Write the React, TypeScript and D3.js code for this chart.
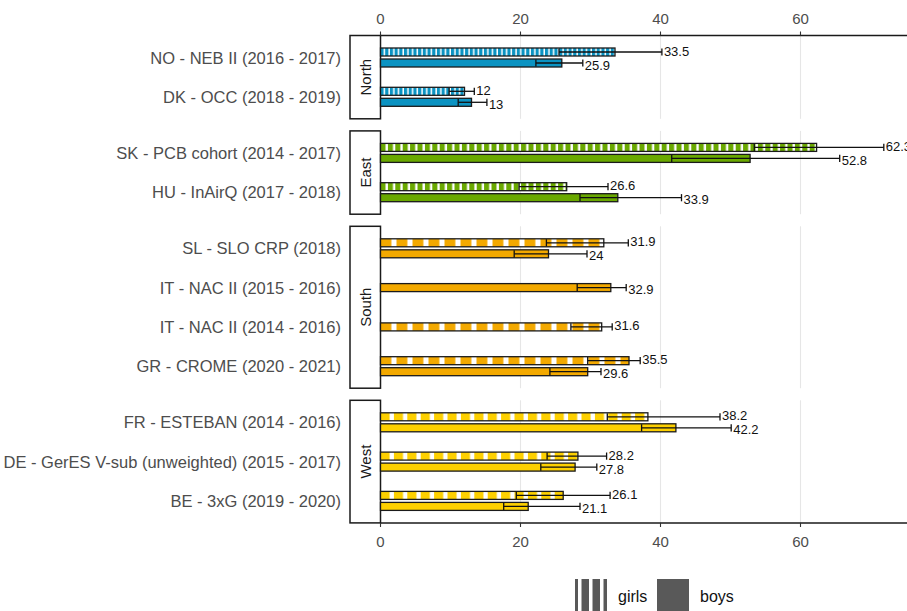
import React, { useEffect, useRef } from 'react';
import * as d3 from 'd3';

// --- data ---
const regions = ['North', 'East', 'South', 'West'];

const studies = [
	'NO - NEB II (2016 - 2017)',
	'DK - OCC (2018 - 2019)',
	'SK - PCB cohort (2014 - 2017)',
	'HU - InAirQ (2017 - 2018)',
	'SL - SLO CRP (2018)',
	'IT - NAC II (2015 - 2016)',
	'IT - NAC II (2014 - 2016)',
	'GR - CROME (2020 - 2021)',
	'FR - ESTEBAN (2014 - 2016)',
	'DE - GerES V-sub (unweighted) (2015 - 2017)',
	'BE - 3xG (2019 - 2020)',
];
const studyRegion = ['North', 'North', 'East', 'East', 'South', 'South', 'South', 'South', 'West', 'West', 'West'];

const girlsValue = [33.5, 12, 62.3, 26.6, 31.9, null, 31.6, 35.5, 38.2, 28.2, 26.1];
const girlsLower = [25.5, 9.8, 53.4, 19.8, 23.7, null, 27.2, 29.6, 32.4, 23.8, 19.4];
const girlsUpper = [40.2, 13.4, 71.9, 32.5, 35.4, null, 33.1, 37.1, 48.5, 32.3, 32.8];

const boysValue = [25.9, 13, 52.8, 33.9, 24, 32.9, null, 29.6, 42.2, 27.8, 21.1];
const boysLower = [22.2, 11.1, 41.6, 28.5, 19.1, 28.1, null, 24.2, 37.3, 22.9, 17.6];
const boysUpper = [28.9, 15.2, 65.6, 43.0, 29.5, 35.1, null, 31.5, 50.1, 30.9, 28.5];

const xTicks = [0, 20, 40, 60];
const sexes = ['girls', 'boys'];

// --- styling ---
const regionColor: Record<string, string> = {
	North: '#0b93c2',
	East: '#6aa900',
	South: '#f3a900',
	West: '#fdd000',
};
const stripePeriod: Record<string, number> = { North: 4.7, East: 7.4, South: 16, West: 13.4 };

const W = 907;
const H = 611;
const FONT = '"Liberation Sans", Arial, sans-serif';

const App: React.FC = () => {
	const ref = useRef<SVGSVGElement>(null);

	useEffect(() => {
		if (!ref.current) return;
		const svg = d3.select(ref.current);
		svg.selectAll('*').remove();

		const panelTop = 35.5;
		const panelBottom = 523;
		const rowStep = 39.3;
		const rowPad = 22;
		const gap = 12.1;
		const stripLeft = 350;

		const x = d3.scaleLinear().domain([0, 60]).range([380.5, 800.5]);
		const x0 = x(0);

		// stripe patterns
		const defs = svg.append('defs');
		regions.forEach((r) => {
			const p = stripePeriod[r];
			const pat = defs
				.append('pattern')
				.attr('id', `stripe-${r}`)
				.attr('patternUnits', 'userSpaceOnUse')
				.attr('x', x0)
				.attr('width', p)
				.attr('height', 20);
			pat.append('rect').attr('width', p).attr('height', 20).attr('fill', '#fff');
			pat.append('rect').attr('width', p * 0.68).attr('height', 20).attr('fill', regionColor[r]);
		});
		const legPat = defs
			.append('pattern')
			.attr('id', 'stripe-legend')
			.attr('patternUnits', 'userSpaceOnUse')
			.attr('x', 575)
			.attr('width', 11)
			.attr('height', 20);
		legPat.append('rect').attr('width', 11).attr('height', 20).attr('fill', '#fff');
		legPat.append('rect').attr('x', 3.5).attr('width', 7.5).attr('height', 20).attr('fill', '#595959');

		// facet layout
		let top = panelTop;
		const facets = regions.map((r) => {
			const rows = studies.filter((_, i) => studyRegion[i] === r);
			const h = (rows.length - 1) * rowStep + 2 * rowPad;
			const y = d3
				.scalePoint<string>()
				.domain(rows)
				.range([top, top + h])
				.padding(rowPad / rowStep);
			const f = { region: r, top, bottom: top + h, y };
			top += h + gap;
			return f;
		});

		const g = svg.append('g');

		facets.forEach((f) => {
			// gridlines
			g.append('g')
				.selectAll('line')
				.data(xTicks.filter((t) => t > 0))
				.enter()
				.append('line')
				.attr('x1', (d) => x(d))
				.attr('x2', (d) => x(d))
				.attr('y1', f.top)
				.attr('y2', f.bottom)
				.attr('stroke', '#e6e6e6')
				.attr('stroke-width', 1.1);

			// strip
			g.append('rect')
				.attr('x', stripLeft)
				.attr('y', f.top)
				.attr('width', x0 - stripLeft)
				.attr('height', f.bottom - f.top)
				.attr('fill', '#fff')
				.attr('stroke', '#1a1a1a')
				.attr('stroke-width', 1.5);
			const cy = (f.top + f.bottom) / 2;
			const cx = (stripLeft + x0) / 2;
			g.append('text')
				.attr('transform', `translate(${cx},${cy}) rotate(-90)`)
				.attr('text-anchor', 'middle')
				.attr('dominant-baseline', 'central')
				.attr('font-family', FONT)
				.attr('font-size', 15)
				.attr('fill', '#1a1a1a')
				.text(f.region);

			// row labels
			g.append('g')
				.selectAll('text')
				.data(f.y.domain())
				.enter()
				.append('text')
				.attr('x', 341)
				.attr('y', (d) => f.y(d) as number)
				.attr('text-anchor', 'end')
				.attr('dominant-baseline', 'central')
				.attr('font-family', FONT)
				.attr('font-size', 16.5)
				.attr('fill', '#4d4d4d')
				.text((d) => d);
		});

		// bars + error bars
		const marks: {
			sex: string;
			region: string;
			c: number;
			y0: number;
			y1: number;
			v: number;
			lo: number;
			hi: number;
		}[] = [];
		studies.forEach((s, i) => {
			const f = facets.find((ff) => ff.region === studyRegion[i])!;
			const c = f.y(s) as number;
			const both = girlsValue[i] != null && boysValue[i] != null;
			if (girlsValue[i] != null) {
				marks.push({
					sex: 'girls',
					region: f.region,
					c,
					y0: both ? c - 9.5 : c - 4,
					y1: both ? c - 1.5 : c + 4,
					v: girlsValue[i] as number,
					lo: girlsLower[i] as number,
					hi: girlsUpper[i] as number,
				});
			}
			if (boysValue[i] != null) {
				marks.push({
					sex: 'boys',
					region: f.region,
					c,
					y0: both ? c + 1.5 : c - 4,
					y1: both ? c + 9.5 : c + 4,
					v: boysValue[i] as number,
					lo: boysLower[i] as number,
					hi: boysUpper[i] as number,
				});
			}
		});

		g.append('g')
			.selectAll('rect')
			.data(marks)
			.enter()
			.append('rect')
			.attr('x', x0)
			.attr('y', (d) => d.y0)
			.attr('width', (d) => x(d.v) - x0)
			.attr('height', (d) => d.y1 - d.y0)
			.attr('fill', (d) => (d.sex === 'girls' ? `url(#stripe-${d.region})` : regionColor[d.region]))
			.attr('stroke', '#1a1a1a')
			.attr('stroke-width', 1.3);

		const eb = g.append('g').attr('stroke', '#111').attr('stroke-width', 1.3);
		marks.forEach((d) => {
			const my = (d.y0 + d.y1) / 2;
			const cap = (d.y1 - d.y0) * 0.9;
			eb.append('line').attr('x1', x(d.lo)).attr('x2', x(d.hi)).attr('y1', my).attr('y2', my);
			eb.append('line')
				.attr('x1', x(d.lo))
				.attr('x2', x(d.lo))
				.attr('y1', my - cap / 2)
				.attr('y2', my + cap / 2);
			eb.append('line')
				.attr('x1', x(d.hi))
				.attr('x2', x(d.hi))
				.attr('y1', my - cap / 2)
				.attr('y2', my + cap / 2);
		});

		g.append('g')
			.selectAll('text')
			.data(marks)
			.enter()
			.append('text')
			.attr('x', (d) => x(d.hi) + 2)
			.attr('y', (d) => {
				const my = (d.y0 + d.y1) / 2;
				if (d.y1 - d.y0 > 8.5) return my;
				return d.sex === 'girls' ? my - 1 : my + 2;
			})
			.attr('dominant-baseline', 'central')
			.attr('font-family', FONT)
			.attr('font-size', 13)
			.attr('fill', '#111')
			.text((d) => String(d.v));

		// axes (top + bottom)
		const axes = [
			{ y: panelTop, dir: -1, labelY: 18 },
			{ y: panelBottom, dir: 1, labelY: 541 },
		];
		axes.forEach((a) => {
			g.append('line')
				.attr('x1', x0)
				.attr('x2', W)
				.attr('y1', a.y)
				.attr('y2', a.y)
				.attr('stroke', '#1a1a1a')
				.attr('stroke-width', 1.5);
			const tg = g.append('g').selectAll('g').data(xTicks).enter().append('g');
			tg.append('line')
				.attr('x1', (d) => x(d))
				.attr('x2', (d) => x(d))
				.attr('y1', a.y)
				.attr('y2', a.y + a.dir * 4)
				.attr('stroke', '#333')
				.attr('stroke-width', 1.1);
			tg.append('text')
				.attr('x', (d) => x(d))
				.attr('y', a.labelY)
				.attr('text-anchor', 'middle')
				.attr('dominant-baseline', 'central')
				.attr('font-family', FONT)
				.attr('font-size', 15)
				.attr('fill', '#4d4d4d')
				.text((d) => d);
		});

		// legend
		const leg = g
			.append('g')
			.selectAll('g')
			.data(sexes)
			.enter()
			.append('g')
			.attr('transform', (d, i) => `translate(${575 + i * 82},579)`);
		leg.append('rect')
			.attr('width', 32)
			.attr('height', 32)
			.attr('fill', (d) => (d === 'girls' ? 'url(#stripe-legend)' : '#595959'));
		leg.append('text')
			.attr('x', 43)
			.attr('y', 17)
			.attr('dominant-baseline', 'central')
			.attr('font-family', FONT)
			.attr('font-size', 16)
			.attr('fill', '#111')
			.text((d) => d);
	}, []);

	return (
		<svg
			ref={ref}
			width={W}
			height={H}
			style={{ position: 'absolute', left: 0, top: 0, background: '#fff' }}
		/>
	);
};

export default App;
